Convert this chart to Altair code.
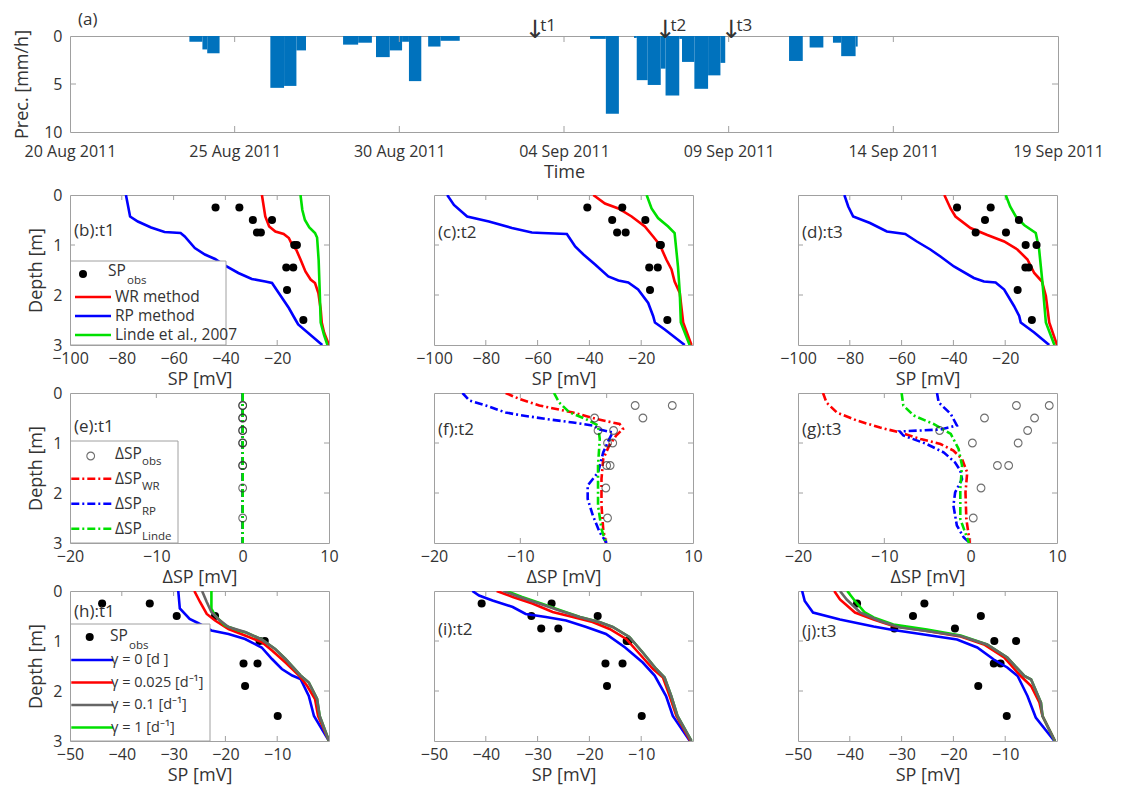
import altair as alt
import pandas as pd

FONT = "Open Sans"
TXT = "#333333"
BOX = "#a0a0a0"
RED, BLUE, GREEN, GRAY = "#ff0000", "#0000ff", "#00e000", "#666666"
PREC_BLUE = "#0072bd"
DASHDOT = [8, 3, 2, 3]

# ---------------- (a) precipitation ----------------
prec_start = ["2011-08-23T15:00", "2011-08-24T00:30", "2011-08-24T04:00",
              "2011-08-26T02:00", "2011-08-26T12:00", "2011-08-26T21:00",
              "2011-08-28T07:00", "2011-08-28T18:00", "2011-08-29T07:00", "2011-08-29T17:00",
              "2011-08-30T02:00", "2011-08-30T07:00", "2011-08-30T21:00", "2011-08-31T06:00",
              "2011-09-04T19:00", "2011-09-05T06:30", "2011-09-06T03:00", "2011-09-06T05:00",
              "2011-09-06T13:00", "2011-09-06T22:30", "2011-09-07T02:00", "2011-09-07T12:00",
              "2011-09-07T14:00", "2011-09-07T23:00", "2011-09-08T09:00", "2011-09-08T18:00",
              "2011-09-10T20:00", "2011-09-11T11:00", "2011-09-12T04:00", "2011-09-12T10:00",
              "2011-09-12T20:30"]
prec_end = ["2011-08-24T00:30", "2011-08-24T04:00", "2011-08-24T13:00",
            "2011-08-26T12:00", "2011-08-26T21:00", "2011-08-27T04:00",
            "2011-08-28T18:00", "2011-08-29T04:00", "2011-08-29T17:00", "2011-08-30T02:00",
            "2011-08-30T07:00", "2011-08-30T16:00", "2011-08-31T06:00", "2011-08-31T20:00",
            "2011-09-05T06:30", "2011-09-05T16:00", "2011-09-06T05:00", "2011-09-06T13:00",
            "2011-09-06T22:30", "2011-09-07T02:00", "2011-09-07T12:00", "2011-09-07T14:00",
            "2011-09-07T23:00", "2011-09-08T09:00", "2011-09-08T18:00", "2011-09-08T21:30",
            "2011-09-11T06:00", "2011-09-11T21:00", "2011-09-12T10:00", "2011-09-12T20:30",
            "2011-09-12T22:00"]
prec_mm = [0.6, 1.4, 1.8,
           5.4, 5.2, 1.5,
           0.9, 0.7, 2.2, 1.5, 0.6, 4.7, 1.1, 0.5,
           0.3, 8.1, 0.2, 4.6, 5.1, 3.4, 6.2, 0.3, 2.7, 5.5, 4.1, 2.8,
           2.6, 1.2, 0.7, 2.1, 1.1]
event_time = ["2011-09-03T03:00", "2011-09-07T02:00", "2011-09-09T02:00"]
event_label = ["t1", "t2", "t3"]
date_ticks = ["2011-08-20", "2011-08-25", "2011-08-30", "2011-09-04",
              "2011-09-09", "2011-09-14", "2011-09-19"]
prec_ticks = [0, 5, 10]

# ---------------- observations ----------------
obs_depth = [0.25, 0.25, 0.5, 0.5, 0.75, 0.75, 1.0, 1.0, 1.45, 1.45, 1.9, 2.5]
obs_t1 = [-43.8, -34.6, -29.4, -22.0, -27.8, -26.3, -13.4, -12.4, -16.5, -13.8, -16.2, -9.9]
obs_t2 = [-40.8, -27.3, -31.2, -18.4, -29.3, -26.0, -12.8, -12.4, -16.9, -13.6, -16.6, -9.9]
obs_t3 = [-38.6, -25.6, -27.8, -14.7, -31.4, -19.7, -12.1, -7.9, -12.2, -10.9, -15.2, -9.7]
dobs_t1 = [0.0] * 12
dobs_t2 = [3.3, 7.6, -1.4, 4.2, -1.0, 0.8, 0.1, 0.7, 0.0, 0.4, -0.1, 0.1]
dobs_t3 = [5.3, 9.1, 1.6, 7.4, -3.6, 6.6, 0.2, 5.5, 3.1, 4.4, 1.2, 0.3]

# ---------------- (b)-(d) SP models ----------------
b_wr_sp = [-25.9, -24.6, -23.1, -20.7, -17.5, -15.5, -14.2, -12.6, -11.0, -9.1, -7.1, -5.4, -4.1, -3.2, -2.8, -1.9, 0.0]
b_wr_d = [0.0, 0.43, 0.63, 0.73, 0.78, 0.86, 1.0, 1.1, 1.29, 1.53, 1.69, 1.76, 1.96, 2.29, 2.55, 2.75, 3.0]
b_rp_sp = [-78.4, -76.8, -73.8, -68.7, -63.5, -57.3, -55.7, -51.8, -47.9, -44.0, -40.2, -35.0, -29.8, -24.6, -22.0, -19.4, -15.5, -13.0, -11.9, -2.6]
b_rp_d = [0.0, 0.43, 0.53, 0.65, 0.74, 0.76, 0.83, 1.06, 1.19, 1.28, 1.41, 1.56, 1.68, 1.73, 1.76, 1.96, 2.26, 2.49, 2.59, 3.0]
b_li_sp = [-11.0, -10.3, -9.3, -7.6, -5.4, -4.6, -4.0, -3.6, -3.2, -1.9, -0.6]
b_li_d = [0.0, 0.3, 0.5, 0.65, 0.76, 0.85, 1.3, 1.9, 2.55, 2.8, 3.0]

c_wr_sp = [-38.5, -34.0, -28.8, -23.7, -18.6, -15.4, -12.8, -10.3, -8.3, -7.1, -5.1, -3.8, -0.6]
c_wr_d = [0.0, 0.17, 0.27, 0.43, 0.63, 0.83, 1.0, 1.29, 1.49, 1.73, 1.96, 2.55, 3.0]
c_rp_sp = [-94.9, -92.3, -87.2, -78.8, -69.9, -62.2, -58.3, -48.7, -45.5, -42.3, -37.8, -32.7, -28.8, -25.0, -21.2, -17.3, -15.4, -14.7, -10.9, -3.2]
c_rp_d = [0.0, 0.2, 0.43, 0.53, 0.66, 0.75, 0.76, 0.78, 1.03, 1.19, 1.39, 1.63, 1.71, 1.75, 1.89, 2.16, 2.42, 2.55, 2.69, 3.0]
c_li_sp = [-17.9, -16.0, -13.5, -9.6, -7.1, -5.8, -5.1, -4.7, -1.3]
c_li_d = [0.0, 0.27, 0.46, 0.63, 0.76, 1.43, 1.96, 2.55, 3.0]

d_wr_sp = [-43.5, -41.1, -39.2, -33.4, -26.9, -20.4, -15.3, -11.4, -8.8, -5.8, -4.3, -3.0, 0.0]
d_wr_d = [0.0, 0.27, 0.43, 0.66, 0.80, 0.93, 1.09, 1.29, 1.56, 1.73, 2.02, 2.55, 3.0]
d_rp_sp = [-82.1, -80.6, -78.7, -72.2, -65.7, -58.6, -54.1, -48.9, -45.0, -39.8, -32.1, -28.2, -23.7, -20.4, -16.6, -14.6, -14.0, -8.8, -3.0]
d_rp_d = [0.0, 0.23, 0.43, 0.56, 0.73, 0.78, 0.93, 1.09, 1.23, 1.43, 1.66, 1.73, 1.75, 1.89, 2.22, 2.42, 2.55, 2.75, 3.0]
d_li_sp = [-19.8, -18.1, -15.9, -12.7, -8.2, -6.9, -5.6, -4.3, -1.0]
d_li_d = [0.0, 0.23, 0.43, 0.6, 0.76, 1.09, 1.76, 2.55, 3.0]

# ---------------- (e)-(g) Delta SP models ----------------
e_sp = [0.0, 0.0]
e_d = [0.0, 3.0]

f_wr_sp = [-11.7, -10.1, -7.8, -3.9, -1.2, 1.5, 1.9, 1.1, 0.3, -0.4, -0.6, -0.6, -0.4, -0.1]
f_wr_d = [0.0, 0.12, 0.25, 0.39, 0.52, 0.62, 0.72, 0.85, 1.05, 1.32, 1.72, 2.25, 2.72, 3.0]
f_rp_sp = [-16.7, -15.9, -14.0, -11.7, -10.1, -7.0, -3.9, -1.6, -0.8, 0.7, 0.3, -0.4, -1.0, -1.6, -2.2, -2.2, -1.6, -0.8, 0.0]
f_rp_d = [0.0, 0.15, 0.25, 0.39, 0.44, 0.52, 0.59, 0.65, 0.73, 0.79, 0.92, 1.19, 1.59, 1.72, 1.85, 2.12, 2.45, 2.79, 3.0]
f_li_sp = [-6.1, -5.5, -4.3, -2.4, -1.0, -0.8, -1.0, -1.0, -0.6, -0.1]
f_li_d = [0.0, 0.19, 0.39, 0.52, 0.65, 0.92, 1.45, 2.25, 2.72, 3.0]

g_wr_sp = [-17.1, -16.7, -15.5, -13.2, -10.5, -8.2, -5.8, -3.5, -2.0, -1.0, -0.4, -0.6, -0.5, -0.1]
g_wr_d = [0.0, 0.19, 0.39, 0.55, 0.69, 0.79, 0.92, 1.02, 1.15, 1.32, 1.59, 1.99, 2.52, 3.0]
g_rp_sp = [-3.9, -3.7, -2.3, -1.6, -3.5, -8.2, -7.8, -5.1, -3.1, -1.8, -1.2, -1.0, -1.8, -2.0, -1.6, -0.8, -0.1]
g_rp_d = [0.0, 0.19, 0.42, 0.65, 0.73, 0.77, 0.85, 1.02, 1.19, 1.39, 1.55, 1.72, 1.99, 2.25, 2.65, 2.89, 3.0]
g_li_sp = [-8.0, -7.8, -6.6, -4.3, -2.3, -1.4, -1.0, -1.2, -1.2, -0.2]
g_li_d = [0.0, 0.25, 0.45, 0.62, 0.82, 1.12, 1.45, 1.92, 2.52, 3.0]

# ---------------- (h)-(j) gamma sensitivity ----------------
h_g0_sp = [-29.1, -28.8, -26.9, -25.3, -22.7, -19.4, -16.2, -13.0, -11.0, -9.1, -7.1, -5.5, -3.9, -2.9, 0.0]
h_g0_d = [0.0, 0.35, 0.56, 0.64, 0.79, 0.86, 0.96, 1.13, 1.36, 1.56, 1.69, 1.76, 2.10, 2.50, 3.0]
h_g025_sp = [-26.0, -24.9, -23.6, -22.0, -19.4, -16.2, -13.0, -11.0, -8.4, -5.8, -4.2, -2.7, -2.1, 0.0]
h_g025_d = [0.0, 0.22, 0.46, 0.59, 0.76, 0.89, 1.02, 1.19, 1.43, 1.69, 1.90, 2.16, 2.50, 3.0]
h_g01_sp = [-24.5, -23.6, -22.7, -21.4, -19.4, -16.2, -13.0, -10.4, -8.4, -5.5, -3.9, -2.3, -1.8, 0.0]
h_g01_d = [0.0, 0.22, 0.42, 0.56, 0.72, 0.82, 0.97, 1.16, 1.36, 1.69, 1.83, 2.16, 2.50, 3.0]
h_g1_sp = [-22.7, -22.7, -22.0, -20.1, -17.5, -16.0, -13.0, -10.4, -8.4, -5.5, -3.9, -2.3, -1.8, 0.0]
h_g1_d = [0.0, 0.35, 0.49, 0.69, 0.79, 0.83, 0.97, 1.16, 1.36, 1.69, 1.83, 2.16, 2.50, 3.0]

i_g0_sp = [-42.6, -41.3, -38.7, -34.8, -32.3, -28.4, -24.5, -20.6, -16.8, -13.1, -9.7, -7.4, -5.2, -3.9, -0.6]
i_g0_d = [0.0, 0.09, 0.19, 0.32, 0.46, 0.52, 0.59, 0.72, 0.86, 1.13, 1.43, 1.69, 2.10, 2.50, 3.0]
i_g025_sp = [-37.9, -34.8, -31.0, -27.1, -23.2, -19.4, -16.1, -12.9, -10.3, -7.7, -5.8, -4.5, -3.2, -0.5]
i_g025_d = [0.0, 0.12, 0.25, 0.42, 0.52, 0.62, 0.76, 0.96, 1.26, 1.56, 1.73, 2.10, 2.50, 3.0]
i_g01_sp = [-36.6, -33.5, -29.7, -25.8, -21.9, -18.1, -15.5, -12.3, -9.7, -7.1, -5.5, -4.2, -3.0, -0.3]
i_g01_d = [0.0, 0.12, 0.25, 0.39, 0.52, 0.62, 0.72, 0.92, 1.23, 1.56, 1.73, 2.10, 2.50, 3.0]
i_g1_sp = [-36.0, -33.0, -29.3, -25.5, -21.8, -18.1, -15.5, -12.3, -9.7, -7.1, -5.5, -4.2, -3.0, -0.3]
i_g1_d = [0.0, 0.12, 0.25, 0.39, 0.52, 0.62, 0.72, 0.92, 1.23, 1.56, 1.73, 2.10, 2.50, 3.0]

j_g0_sp = [-49.2, -48.7, -47.1, -41.9, -35.4, -32.2, -25.7, -19.3, -15.4, -12.2, -9.6, -7.6, -5.7, -4.1, -0.5]
j_g0_d = [0.0, 0.2, 0.43, 0.57, 0.71, 0.77, 0.87, 0.97, 1.13, 1.37, 1.53, 1.70, 2.10, 2.53, 3.0]
j_g025_sp = [-43.0, -41.9, -39.0, -35.4, -31.6, -25.1, -18.6, -14.1, -10.2, -7.0, -5.0, -3.4, -2.8, -0.4]
j_g025_d = [0.0, 0.17, 0.43, 0.57, 0.70, 0.80, 0.91, 1.07, 1.33, 1.70, 1.90, 2.23, 2.50, 3.0]
j_g01_sp = [-41.9, -40.6, -38.0, -34.2, -30.3, -25.1, -18.6, -13.5, -9.6, -6.3, -5.0, -3.1, -2.8, -0.4]
j_g01_d = [0.0, 0.17, 0.43, 0.60, 0.73, 0.80, 0.90, 1.07, 1.33, 1.70, 1.77, 2.23, 2.50, 3.0]
j_g1_sp = [-40.5, -39.0, -37.1, -35.4, -31.6, -25.1, -18.6, -13.5, -9.6, -6.3, -5.0, -3.1, -2.8, -0.4]
j_g1_d = [0.0, 0.2, 0.43, 0.53, 0.67, 0.77, 0.89, 1.07, 1.33, 1.70, 1.77, 2.23, 2.50, 3.0]

sp_ticks = [-100, -80, -60, -40, -20]
dsp_ticks = [-20, -10, 0, 10]
sp2_ticks = [-50, -40, -30, -20, -10]
depth_ticks = [0, 1, 2, 3]

# ---------------- layout constants ----------------
W_TOP, H_TOP = 988, 96
W, H = 259, 150
one = pd.DataFrame({"k": [0]})


def dt(s):
    y, m, d = s.split("-")
    return alt.DateTime(year=int(y), month=int(m), date=int(d), hours=0, utc=True)


def z(s):
    return s + ":00Z"


def text_at(s, x, y, size=15, align="left", baseline="middle"):
    return alt.Chart(one).mark_text(text=s, font=FONT, fontSize=size, align=align,
                                    baseline=baseline, color=TXT).encode(
        x=alt.value(x), y=alt.value(y))


def leg_box(x0, y0, x1, y1):
    return alt.Chart(one).mark_rect(fill="white", stroke=BOX, strokeWidth=1).encode(
        x=alt.value(x0), x2=alt.value(x1), y=alt.value(y0), y2=alt.value(y1))


def leg_line(x0, x1, y, color, dash=None):
    kw = dict(color=color, strokeWidth=2.5)
    if dash:
        kw["strokeDash"] = dash
    return alt.Chart(one).mark_rule(**kw).encode(
        x=alt.value(x0), x2=alt.value(x1), y=alt.value(y))


def leg_marker(x, y, filled):
    if filled:
        m = alt.Chart(one).mark_point(shape="circle", filled=True, color="black", size=65, opacity=1)
    else:
        m = alt.Chart(one).mark_point(shape="circle", filled=False, color=TXT, size=60, strokeWidth=1.1)
    return m.encode(x=alt.value(x), y=alt.value(y))


# ---------------- panel (a) ----------------
xa = alt.X("t:T",
           scale=alt.Scale(type="utc", domain=[dt(date_ticks[0]), dt(date_ticks[-1])]),
           axis=alt.Axis(values=[dt(s) for s in date_ticks], format="%d %b %Y", title="Time",
                         labelFlush=False, labelPadding=11, titlePadding=4))
ya = alt.Y("p:Q", scale=alt.Scale(domain=[0, 10], reverse=True, nice=False, zero=False),
           axis=alt.Axis(values=prec_ticks, title="Prec. [mm/h]", labelPadding=8, titlePadding=12))

prec_df = pd.DataFrame({"t": [z(s) for s in prec_start], "t2": [z(s) for s in prec_end], "p": prec_mm})
ev_df = pd.DataFrame({"t": [z(s) for s in event_time], "lab": event_label})
tick_df = pd.DataFrame({"t": [z(s + "T00:00") for s in date_ticks[1:-1]]})
ptick_df = pd.DataFrame({"p": prec_ticks[1:-1]})

top_layers = [
    alt.Chart(prec_df).mark_rect(color=PREC_BLUE).encode(x=xa, x2="t2:T", y=ya, y2=alt.datum(0)),
    alt.Chart(tick_df).mark_rule(color=BOX).encode(x=xa, y=alt.value(H_TOP), y2=alt.value(H_TOP - 6)),
    alt.Chart(tick_df).mark_rule(color=BOX).encode(x=xa, y=alt.value(0), y2=alt.value(6)),
    alt.Chart(ptick_df).mark_rule(color=BOX).encode(y=ya, x=alt.value(0), x2=alt.value(6)),
    alt.Chart(ptick_df).mark_rule(color=BOX).encode(y=ya, x=alt.value(W_TOP - 6), x2=alt.value(W_TOP)),
    alt.Chart(ev_df).mark_text(text="↓", font="DejaVu Sans", fontSize=25, align="center",
                               baseline="alphabetic", color=TXT).encode(x=xa, y=alt.value(2)),
    alt.Chart(ev_df).mark_text(font=FONT, fontSize=17, align="left", baseline="alphabetic",
                               dx=5, color=TXT).encode(x=xa, y=alt.value(-5), text="lab:N"),
    text_at("(a)", 8, -16, size=17),
]
top = alt.layer(*top_layers).properties(width=W_TOP, height=H_TOP)


# ---------------- profile panels ----------------
def panel(series, obs_sp, filled, xdom, xvals, xtitle, first_col, tag, tag_y,
          legend=None, points_first=False):
    X = alt.X("sp:Q", scale=alt.Scale(domain=xdom, nice=False, zero=False),
              axis=alt.Axis(values=xvals, title=xtitle, labelFlush=False,
                            labelPadding=5, titlePadding=4))
    if first_col:
        yax = alt.Axis(values=depth_ticks, title="Depth [m]", labelPadding=8, titlePadding=7)
    else:
        yax = alt.Axis(values=depth_ticks, labels=False, title="")
    Y = alt.Y("depth:Q", scale=alt.Scale(domain=[0, 3], reverse=True, nice=False, zero=False), axis=yax)

    layers = []
    xt = pd.DataFrame({"sp": [v for v in xvals if xdom[0] < v < xdom[1]]})
    yt = pd.DataFrame({"depth": [v for v in depth_ticks if 0 < v < 3]})
    layers.append(alt.Chart(xt).mark_rule(color=BOX).encode(x=X, y=alt.value(H), y2=alt.value(H - 5)))
    layers.append(alt.Chart(xt).mark_rule(color=BOX).encode(x=X, y=alt.value(0), y2=alt.value(5)))
    layers.append(alt.Chart(yt).mark_rule(color=BOX).encode(y=Y, x=alt.value(0), x2=alt.value(5)))
    layers.append(alt.Chart(yt).mark_rule(color=BOX).encode(y=Y, x=alt.value(W - 5), x2=alt.value(W)))

    odf = pd.DataFrame({"sp": obs_sp, "depth": obs_depth})
    if filled:
        pts = alt.Chart(odf).mark_point(shape="circle", filled=True, color="black", size=65, opacity=1)
    else:
        pts = alt.Chart(odf).mark_point(shape="circle", filled=False, color=TXT, size=60, strokeWidth=1.1)
    pts = pts.encode(x=X, y=Y)

    if points_first:
        layers.append(pts)
    for sp, dd, color, dash in series:
        df = pd.DataFrame({"sp": sp, "depth": dd, "i": list(range(len(sp)))})
        kw = dict(color=color, strokeWidth=2.6, clip=True)
        if dash:
            kw["strokeDash"] = dash
        layers.append(alt.Chart(df).mark_line(**kw).encode(x=X, y=Y, order=alt.Order("i:Q")))
    if not points_first:
        layers.append(pts)

    layers.append(text_at(tag, 4, tag_y, size=17))
    if legend:
        layers.extend(legend)
    return alt.layer(*layers).properties(width=W, height=H)


# legends
leg_b = [
    leg_box(0.5, 66, 156, H),
    leg_marker(13, 79, True),
    text_at("SP", 38, 76, size=15.5),
    text_at("obs", 57, 86, size=11.5),
    leg_line(5, 41, 102, RED), text_at("WR method", 45, 102, size=15.5),
    leg_line(5, 41, 121, BLUE), text_at("RP method", 45, 121, size=15.5),
    leg_line(5, 41, 140, GREEN), text_at("Linde et al., 2007", 45, 140, size=15.5),
]

leg_e = [leg_box(0.5, 48, 108, H), leg_marker(20.7, 63, False)]
for k, (sub, col) in enumerate([("obs", None), ("WR", RED), ("RP", BLUE), ("Linde", GREEN)]):
    yy = 60.7 + 25 * k
    if col:
        leg_e.append(leg_line(1.3, 43, yy, col, DASHDOT))
    leg_e.append(text_at("ΔSP", 45, yy, size=15.5))
    leg_e.append(text_at(sub, 72, yy + 8, size=11.5))

leg_h = [
    leg_box(0.5, 33, 140, H),
    leg_marker(19.7, 46, True),
    text_at("SP", 40, 45, size=15.5),
    text_at("obs", 59, 55, size=11.5),
]
for k, (lab, col) in enumerate([("γ = 0 [d ]", BLUE), ("γ = 0.025 [d⁻¹]", RED),
                                 ("γ = 0.1 [d⁻¹]", GRAY), ("γ = 1 [d⁻¹]", GREEN)]):
    yy = 69 + 22.5 * k
    leg_h.append(leg_line(1.3, 43, yy, col))
    leg_h.append(text_at(lab, 41, yy, size=14.5))

SPT = "SP [mV]"
DSPT = "ΔSP [mV]"

pb = panel([(b_wr_sp, b_wr_d, RED, None), (b_rp_sp, b_rp_d, BLUE, None), (b_li_sp, b_li_d, GREEN, None)],
           obs_t1, True, [-100, 0], sp_ticks, SPT, True, "(b):t1", 36, leg_b)
pc = panel([(c_wr_sp, c_wr_d, RED, None), (c_rp_sp, c_rp_d, BLUE, None), (c_li_sp, c_li_d, GREEN, None)],
           obs_t2, True, [-100, 0], sp_ticks, SPT, False, "(c):t2", 38)
pd_ = panel([(d_wr_sp, d_wr_d, RED, None), (d_rp_sp, d_rp_d, BLUE, None), (d_li_sp, d_li_d, GREEN, None)],
            obs_t3, True, [-100, 0], sp_ticks, SPT, False, "(d):t3", 38)

pe = panel([(e_sp, e_d, RED, DASHDOT), (e_sp, e_d, BLUE, DASHDOT), (e_sp, e_d, GREEN, DASHDOT)],
           dobs_t1, False, [-20, 10], dsp_ticks, DSPT, True, "(e):t1", 34, leg_e)
pf = panel([(f_wr_sp, f_wr_d, RED, DASHDOT), (f_rp_sp, f_rp_d, BLUE, DASHDOT), (f_li_sp, f_li_d, GREEN, DASHDOT)],
           dobs_t2, False, [-20, 10], dsp_ticks, DSPT, False, "(f):t2", 37)
pg = panel([(g_wr_sp, g_wr_d, RED, DASHDOT), (g_rp_sp, g_rp_d, BLUE, DASHDOT), (g_li_sp, g_li_d, GREEN, DASHDOT)],
           dobs_t3, False, [-20, 10], dsp_ticks, DSPT, False, "(g):t3", 37)

ph = panel([(h_g0_sp, h_g0_d, BLUE, None), (h_g025_sp, h_g025_d, RED, None),
            (h_g1_sp, h_g1_d, GREEN, None), (h_g01_sp, h_g01_d, GRAY, None)],
           obs_t1, True, [-50, 0], sp2_ticks, SPT, True, "(h):t1", 21, leg_h, points_first=True)
pi = panel([(i_g0_sp, i_g0_d, BLUE, None), (i_g025_sp, i_g025_d, RED, None),
            (i_g1_sp, i_g1_d, GREEN, None), (i_g01_sp, i_g01_d, GRAY, None)],
           obs_t2, True, [-50, 0], sp2_ticks, SPT, False, "(i):t2", 39, points_first=True)
pj = panel([(j_g0_sp, j_g0_d, BLUE, None), (j_g025_sp, j_g025_d, RED, None),
            (j_g1_sp, j_g1_d, GREEN, None), (j_g01_sp, j_g01_d, GRAY, None)],
           obs_t3, True, [-50, 0], sp2_ticks, SPT, False, "(j):t3", 41, points_first=True)

grid = alt.concat(pb, pc, pd_, pe, pf, pg, ph, pi, pj, columns=3,
                  spacing={"row": 48, "column": 105}, bounds="flush")

chart = alt.vconcat(top, grid, spacing=63, bounds="flush").properties(
    padding={"left": 5, "top": 2, "right": 0, "bottom": 0}
).configure_view(
    stroke=BOX, strokeWidth=1
).configure_axis(
    domain=False, ticks=False, tickSize=0, grid=False,
    labelFont=FONT, labelFontSize=16, labelColor=TXT,
    titleFont=FONT, titleFontSize=18, titleFontWeight="normal", titleColor=TXT
)

chart.save("out.html", embed_options={"renderer": "svg", "actions": False})
